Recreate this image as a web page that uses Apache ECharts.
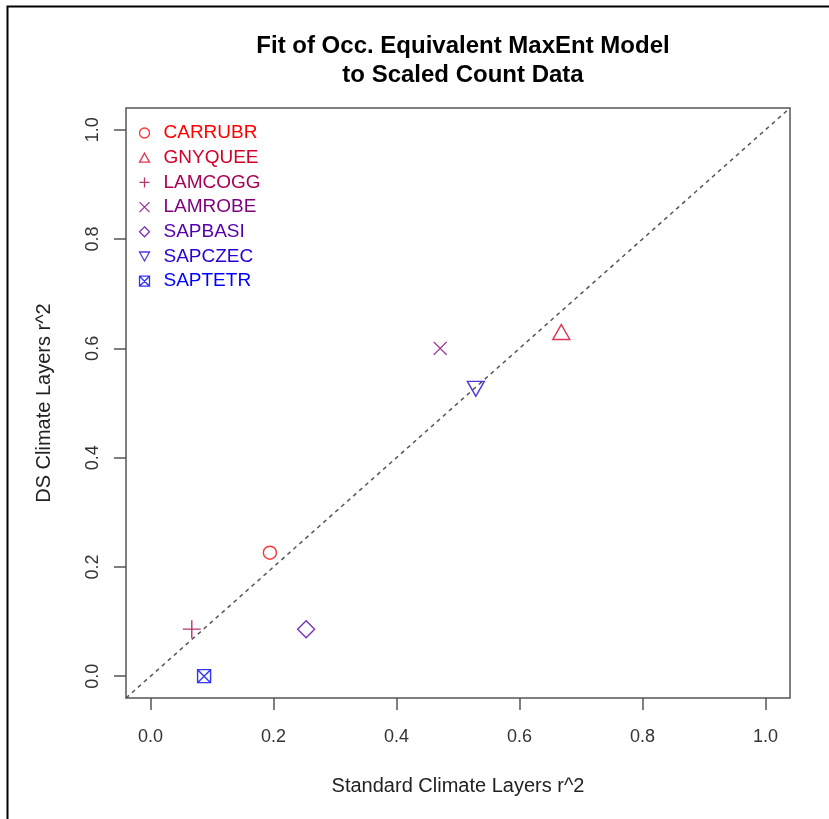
<!DOCTYPE html>
<html lang="en">

<head>
    <meta charset="UTF-8">
    <title>Fit of Occ. Equivalent MaxEnt Model</title>
    <script src="https://cdn.jsdelivr.net/npm/echarts@6/dist/echarts.min.js"></script>
    <style>
        body { margin: 0; background: #fff; }
        #main { width: 829px; height: 819px; }
    </style>
</head>

<body>
    <div id="main"></div>
    <script>
        // species and r^2 values
        var species = ['CARRUBR', 'GNYQUEE', 'LAMCOGG', 'LAMROBE', 'SAPBASI', 'SAPCZEC', 'SAPTETR'];
        var standardR2 = [0.194, 0.668, 0.067, 0.471, 0.253, 0.529, 0.087];
        var dsR2 = [0.226, 0.630, 0.086, 0.600, 0.086, 0.526, 0.000];
        var tickValues = [0, 0.2, 0.4, 0.6, 0.8, 1.0];
        var oneToOne = [-0.04, 1.04];

        // colorRampPalette(c('red','blue'))(7)
        var colors = ['#ff0000', '#d4002a', '#aa0055', '#7f007f', '#5500aa', '#2a00d4', '#0000ff'];
        var shapes = [
            'path://M10,5 A5,5 0 1,1 0,5 A5,5 0 1,1 10,5 Z',
            'path://M5,0 L10,9 L0,9 Z',
            'path://M0,5 L10,5 M5,0 L5,10',
            'path://M0,0 L10,10 M10,0 L0,10',
            'path://M5,0 L10,5 L5,10 L0,5 Z',
            'path://M0,0 L10,0 L5,9 Z',
            'path://M0,0 L10,0 L10,10 L0,10 Z M0,0 L10,10 M10,0 L0,10'
        ];
        var sizes = [13, [17, 15], 18, 13, 17, [17, 15], 13];

        var chart = echarts.init(document.getElementById('main'));
        var font = 'Liberation Sans, Arial, Helvetica, sans-serif';

        function axisOpt(name, nameGap, labelMargin) {
            return {
                type: 'value',
                min: -0.04,
                max: 1.04,
                name: name,
                nameLocation: 'middle',
                nameGap: nameGap,
                nameTextStyle: { color: '#222', fontSize: 20, fontFamily: font },
                axisLine: { show: false, onZero: false },
                splitLine: { show: false },
                axisTick: { show: true, length: 12, customValues: tickValues, lineStyle: { color: '#555', width: 1.5 } },
                axisLabel: {
                    customValues: tickValues,
                    margin: labelMargin,
                    color: '#333',
                    fontSize: 18,
                    fontFamily: font,
                    formatter: function (v) { return v.toFixed(1); }
                }
            };
        }

        var series = species.map(function (s, i) {
            return {
                name: s,
                type: 'scatter',
                symbol: shapes[i],
                symbolSize: sizes[i],
                itemStyle: { color: 'none', borderColor: colors[i], borderWidth: 1.4 },
                data: [[standardR2[i], dsR2[i]]],
                z: 3
            };
        });
        series.push({
            name: 'abline',
            type: 'line',
            data: [[oneToOne[0], oneToOne[0]], [oneToOne[1], oneToOne[1]]],
            symbol: 'none',
            lineStyle: { color: '#555', width: 1.5, type: [4, 4] },
            silent: true,
            z: 2
        });

        var yAxis = axisOpt('DS Climate Layers r^2', 72, 24);
        yAxis.axisLabel.rotate = 90;

        chart.setOption({
            animation: false,
            title: {
                text: 'Fit of Occ. Equivalent MaxEnt Model\nto Scaled Count Data',
                left: 458,
                top: 27,
                textAlign: 'center',
                textStyle: { fontSize: 24, fontWeight: 'bold', color: '#000', lineHeight: 29, fontFamily: font }
            },
            graphic: [{
                type: 'rect',
                shape: { x: 7.5, y: 6.5, width: 900, height: 900 },
                style: { fill: 'none', stroke: '#000', lineWidth: 2 },
                silent: true
            }],
            legend: {
                orient: 'vertical',
                left: 132,
                top: 118,
                itemWidth: 10,
                itemHeight: 10,
                itemGap: 4.7,
                textStyle: { fontSize: 19, lineHeight: 20, fontFamily: font, padding: [0, 0, 0, 9] },
                data: species.map(function (s, i) {
                    return {
                        name: s,
                        icon: shapes[i],
                        itemStyle: { color: 'none', borderColor: colors[i], borderWidth: 1.3 },
                        textStyle: { color: colors[i] }
                    };
                })
            },
            grid: {
                left: 126,
                right: 39,
                top: 108,
                bottom: 121,
                show: true,
                borderColor: '#555',
                borderWidth: 1.5,
                backgroundColor: '#fff'
            },
            xAxis: axisOpt('Standard Climate Layers r^2', 78, 30),
            yAxis: yAxis,
            series: series
        });
    </script>
</body>

</html>
